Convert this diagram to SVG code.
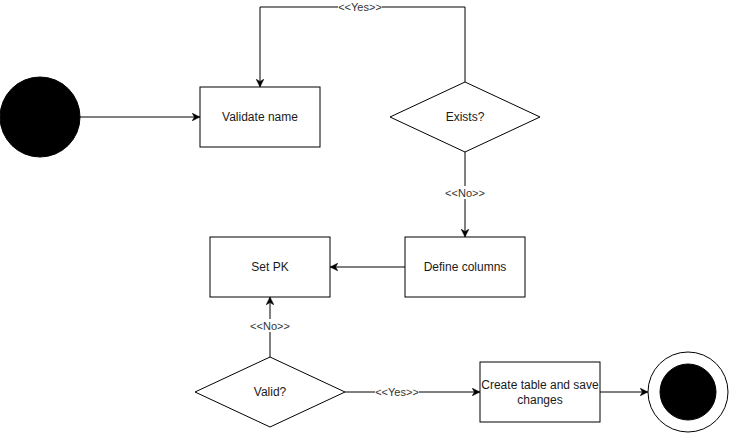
<svg xmlns="http://www.w3.org/2000/svg" width="729" height="433" viewBox="0 0 729 433">
<style>
.box{fill:#fff;stroke:#000;stroke-width:1}
.t{font-family:"Liberation Sans",Arial,sans-serif;font-size:12px;fill:#1a1a1a;text-anchor:middle;dominant-baseline:central}
.el{font-family:"Liberation Sans",Arial,sans-serif;font-size:11px;fill:#333;text-anchor:middle;dominant-baseline:central}
.edge{fill:none;stroke:#000;stroke-width:1}
.bg{fill:#fff}
</style>
<defs>
<marker id="arr" viewBox="0 0 10 10" refX="10" refY="5" markerWidth="8" markerHeight="8" markerUnits="userSpaceOnUse" orient="auto">
<path d="M0,0 L10,5 L0,10 L3,5 z" fill="#000" stroke="#000" stroke-width="0.5"/>
</marker>
</defs>
<rect width="729" height="433" fill="#fff"/>
<g id="connectors">
<path class="edge" d="M80,117 L200,117" marker-end="url(#arr)"/>
<path class="edge" d="M465,82 L465,7 L260,7 L260,87" marker-end="url(#arr)"/>
<rect class="bg" x="338" y="1" width="44" height="12"/>
<text class="el" x="360" y="7">&lt;&lt;Yes&gt;&gt;</text>
<path class="edge" d="M465,152 L465,237" marker-end="url(#arr)"/>
<rect class="bg" x="445" y="186" width="40" height="13"/>
<text class="el" x="465" y="192.5">&lt;&lt;No&gt;&gt;</text>
<path class="edge" d="M405,267 L330,267" marker-end="url(#arr)"/>
<path class="edge" d="M270,357 L270,297" marker-end="url(#arr)"/>
<rect class="bg" x="250" y="319" width="40" height="13"/>
<text class="el" x="270" y="325.5">&lt;&lt;No&gt;&gt;</text>
<path class="edge" d="M345,392 L480,392" marker-end="url(#arr)"/>
<rect class="bg" x="375" y="386" width="44" height="12"/>
<text class="el" x="397" y="392">&lt;&lt;Yes&gt;&gt;</text>
<path class="edge" d="M600,392 L648,392" marker-end="url(#arr)"/>
</g>
<g id="start"><circle cx="40" cy="117" r="40" fill="#000" stroke="#000"/></g>
<g id="validate-name"><rect class="box" x="200" y="87" width="120" height="60"/><text class="t" x="260" y="117">Validate name</text></g>
<g id="exists"><path class="box" d="M465,82 L540,117 L465,152 L390,117 Z"/><text class="t" x="465" y="117">Exists?</text></g>
<g id="define-columns"><rect class="box" x="405" y="237" width="120" height="60"/><text class="t" x="465" y="267">Define columns</text></g>
<g id="set-pk"><rect class="box" x="210" y="237" width="120" height="60"/><text class="t" x="270" y="267">Set PK</text></g>
<g id="valid"><path class="box" d="M270,357 L345,392 L270,427 L195,392 Z"/><text class="t" x="270" y="392">Valid?</text></g>
<g id="create-table"><rect class="box" x="480" y="362" width="120" height="60"/><text class="t" x="540" y="385">Create table and save</text><text class="t" x="540" y="400">changes</text></g>
<g id="end"><circle cx="688" cy="392" r="40" fill="#fff" stroke="#000"/><circle cx="688" cy="392" r="28" fill="#000" stroke="#000"/></g>
</svg>
